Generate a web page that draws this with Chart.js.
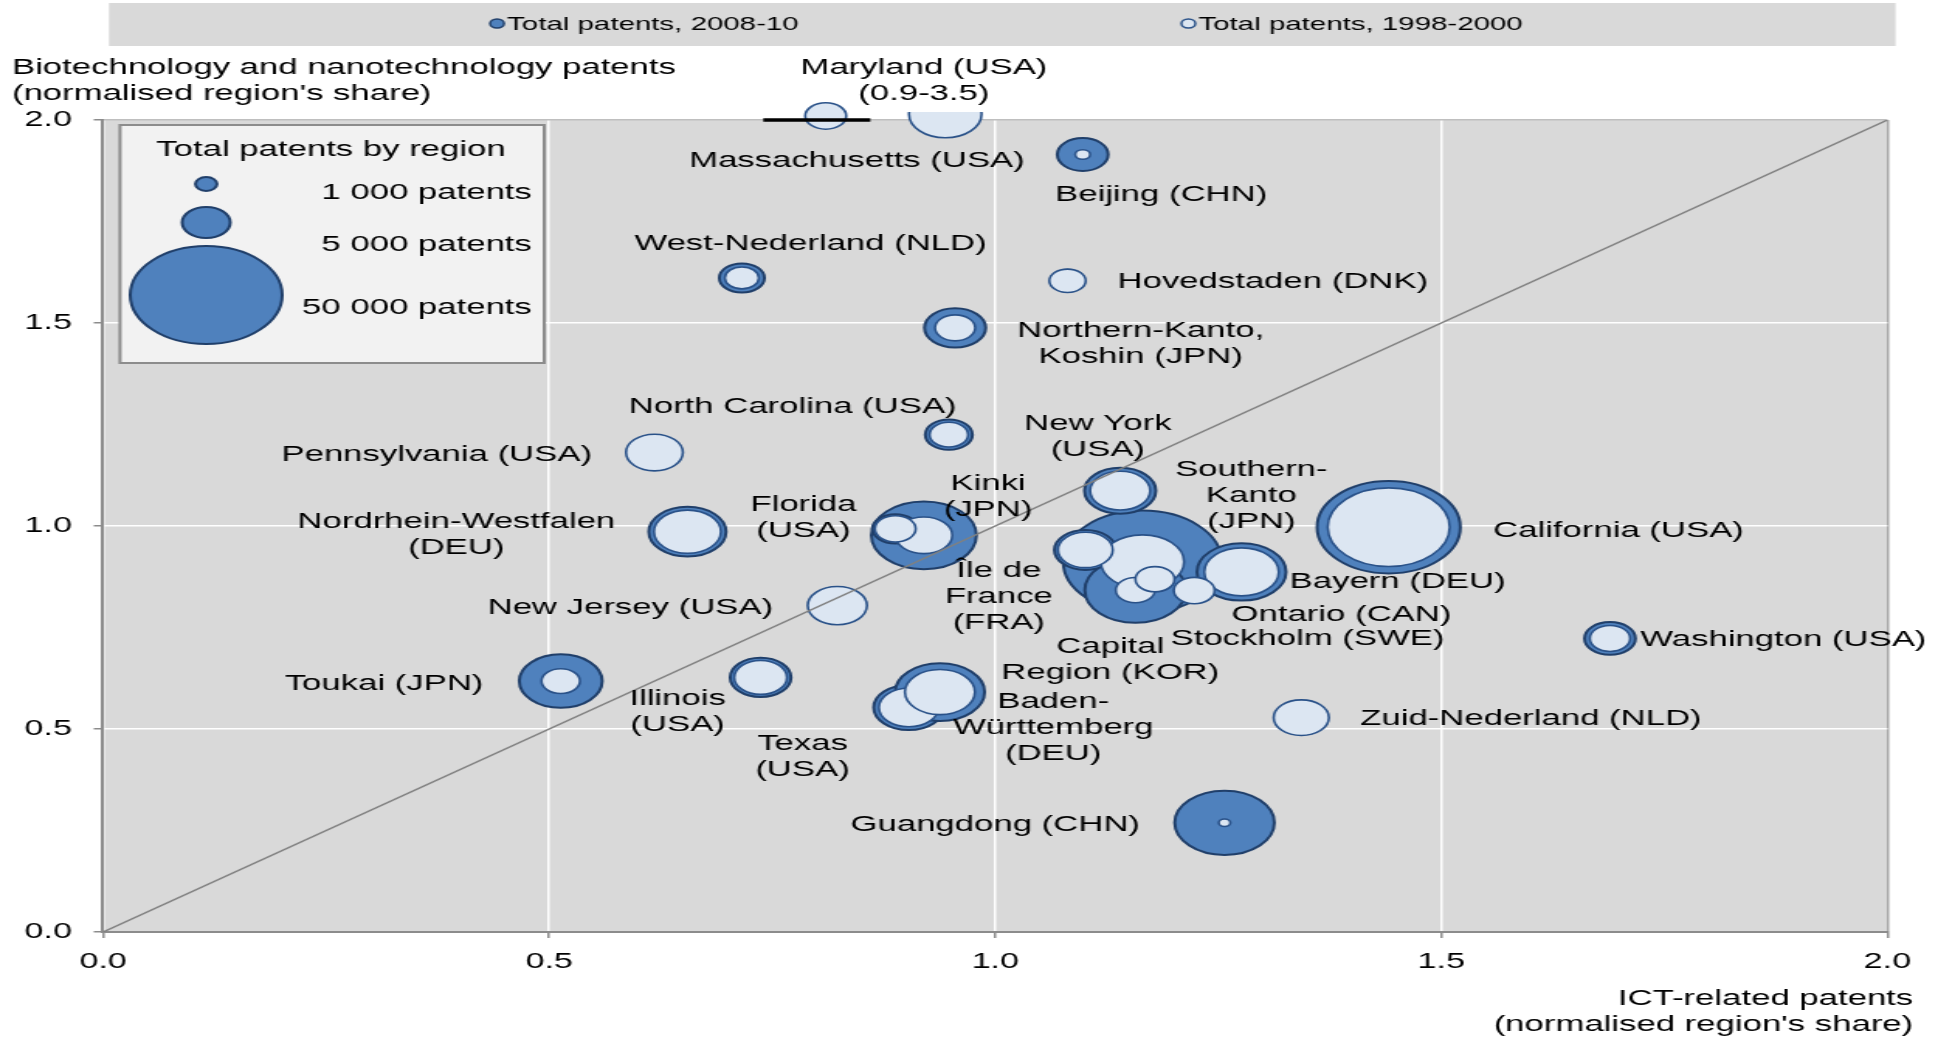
<!DOCTYPE html>
<html>
<head>
<meta charset="utf-8">
<title>Biotechnology and nanotechnology vs ICT patents</title>
<script src="https://cdn.jsdelivr.net/npm/chart.js@4.4.1/dist/chart.umd.min.js"></script>
<style>
  html, body { margin: 0; padding: 0; background: #fff; overflow: hidden; }
  /* the original figure is a stretched picture: draw narrow, then widen it */
  #wrap { width: 1250px; height: 1037px; transform: scaleX(1.5504); transform-origin: 0 0; }
</style>
</head>
<body>
<div id="wrap"><canvas id="patentChart" width="1250" height="1037"></canvas></div>
<script>
// regions, in drawing order
const regions = [
  'Southern-Kanto (JPN)', 'California (USA)', 'Kinki (JPN)', 'Capital Region (KOR)', 'Guangdong (CHN)',
  'Île de France (FRA)', 'Ontario (CAN)', 'Bayern (DEU)', 'Stockholm (SWE)', 'Texas (USA)',
  'Baden-Württemberg (DEU)', 'Florida (USA)', 'Nordrhein-Westfalen (DEU)', 'Toukai (JPN)', 'Illinois (USA)',
  'New Jersey (USA)', 'New York (USA)', 'Pennsylvania (USA)', 'North Carolina (USA)', 'Northern-Kanto, Koshin (JPN)',
  'West-Nederland (NLD)', 'Hovedstaden (DNK)', 'Beijing (CHN)', 'Washington (USA)', 'Zuid-Nederland (NLD)',
  'Massachusetts (USA)', 'Maryland (USA)'
];
// ICT-related patents, normalised region's share
const ictShare = [1.165, 1.441, 0.920, 1.157, 1.257, 1.101, 1.179, 1.276, 1.223, 0.903,
                  0.938, 0.888, 0.655, 0.513, 0.737, 0.823, 1.140, 0.618, 0.948, 0.955,
                  0.716, 1.081, 1.098, 1.689, 1.343, 0.944, 0.810];
// Biotechnology and nanotechnology patents, normalised region's share
const bioShare = [0.912, 0.997, 0.977, 0.842, 0.269, 0.941, 0.869, 0.887, 0.841, 0.553,
                  0.591, 0.993, 0.986, 0.618, 0.627, 0.804, 1.087, 1.181, 1.225, 1.488,
                  1.611, 1.604, 1.915, 0.723, 0.528, 2.014, 2.010];
// total patents 2008-10 and 1998-2000
const patents2008 = [54400, 44400, 23900, 22100, 21500, 8300, 3000, 17150, 3200, 10600,
                     17300, 4500, 12900, 14900, 8000, 6500, 11000, 6200, 4800, 8100,
                     4400, 2500, 5600, 5600, 5800, null, null];
const patents1998 = [15000, 32200, 7000, 3300, 290, 6500, 3300, 12000, 3600, 7700,
                     10600, 3600, 9700, 3200, 6000, 7600, 7800, 7000, 3200, 3500,
                     2500, 2850, 480, 3500, 6600, 11400, 3650];
const offScaleRegion = 'Maryland (USA)';   // real point (0.9, 3.5), shown at the top edge
const breakMark = [0.74, 0.86];            // broken-axis bar under Maryland
const sizeLegend = [1000, 5000, 50000];
const axisTicks = [0, 0.5, 1, 1.5, 2];

// label placement (data units): first line centre, alignment
const labelLines = {
  'Southern-Kanto (JPN)': [['Southern-', 'Kanto', '(JPN)'], 1.287, 1.145, 'center'],
  'California (USA)': [['California (USA)'], 1.558, 0.995, 'left'],
  'Kinki (JPN)': [['Kinki', '(JPN)'], 0.992, 1.111, 'center'],
  'Capital Region (KOR)': [['Capital', 'Region (KOR)'], 1.129, 0.709, 'center'],
  'Guangdong (CHN)': [['Guangdong (CHN)'], 1.000, 0.271, 'center'],
  'Île de France (FRA)': [['Île de', 'France', '(FRA)'], 1.004, 0.895, 'center'],
  'Ontario (CAN)': [['Ontario (CAN)'], 1.388, 0.788, 'center'],
  'Bayern (DEU)': [['Bayern (DEU)'], 1.330, 0.868, 'left'],
  'Stockholm (SWE)': [['Stockholm (SWE)'], 1.350, 0.728, 'center'],
  'Texas (USA)': [['Texas', '(USA)'], 0.784, 0.469, 'center'],
  'Baden-Württemberg (DEU)': [['Baden-', 'Württemberg', '(DEU)'], 1.065, 0.572, 'center'],
  'Florida (USA)': [['Florida', '(USA)'], 0.785, 1.059, 'center'],
  'Nordrhein-Westfalen (DEU)': [['Nordrhein-Westfalen', '(DEU)'], 0.396, 1.017, 'center'],
  'Toukai (JPN)': [['Toukai (JPN)'], 0.315, 0.618, 'center'],
  'Illinois (USA)': [['Illinois', '(USA)'], 0.644, 0.581, 'center'],
  'New Jersey (USA)': [['New Jersey (USA)'], 0.591, 0.804, 'center'],
  'New York (USA)': [['New York', '(USA)'], 1.115, 1.257, 'center'],
  'Pennsylvania (USA)': [['Pennsylvania (USA)'], 0.374, 1.181, 'center'],
  'North Carolina (USA)': [['North Carolina (USA)'], 0.773, 1.300, 'center'],
  'Northern-Kanto, Koshin (JPN)': [['Northern-Kanto,', 'Koshin (JPN)'], 1.163, 1.486, 'center'],
  'West-Nederland (NLD)': [['West-Nederland (NLD)'], 0.793, 1.702, 'center'],
  'Hovedstaden (DNK)': [['Hovedstaden (DNK)'], 1.137, 1.607, 'left'],
  'Beijing (CHN)': [['Beijing (CHN)'], 1.186, 1.823, 'center'],
  'Washington (USA)': [['Washington (USA)'], 1.723, 0.725, 'left'],
  'Zuid-Nederland (NLD)': [['Zuid-Nederland (NLD)'], 1.409, 0.530, 'left'],
  'Massachusetts (USA)': [['Massachusetts (USA)'], 0.845, 1.906, 'center'],
  'Maryland (USA)': [['Maryland (USA)', '(0.9-3.5)'], 0.920, 2.134, 'center']
};

const FONT = '"Liberation Sans", Arial, sans-serif';
const DARK = '#4f81bd', DARK_LINE = '#203f6a';
const LIGHT = '#dce6f2', LIGHT_LINE = '#2a5289';

function bubbleR(p) { return 49 * Math.sqrt(p / 50000); } // bubble area ~ patents

function points(sizes, keep) {
  return regions.map((name, i) => ({ name, i }))
    .filter(d => sizes[d.i] != null && keep(d.name))
    .map(d => ({ x: ictShare[d.i], y: bioShare[d.i], r: bubbleR(sizes[d.i]), name: d.name }));
}

const decor = {
  id: 'decor',
  beforeDraw(chart) {
    const { ctx, chartArea: a } = chart;
    ctx.save();
    ctx.fillStyle = '#fff';
    ctx.fillRect(0, 0, chart.width, chart.height);
    ctx.fillStyle = '#d9d9d9';
    ctx.fillRect(a.left, a.top, a.right - a.left, a.bottom - a.top);
    // series legend band on top
    ctx.fillRect(70.3, 3, 1152.3, 43);
    const items = [['Total patents, 2008-10', DARK, DARK_LINE, 320.6], ['Total patents, 1998-2000', LIGHT, LIGHT_LINE, 766.5]];
    ctx.font = '19px ' + FONT;
    ctx.textBaseline = 'middle';
    items.forEach(([txt, fill, line, x]) => {
      ctx.beginPath();
      ctx.arc(x, 23.5, 4.5, 0, Math.PI * 2);
      ctx.fillStyle = fill; ctx.fill();
      ctx.lineWidth = 1.5; ctx.strokeStyle = line; ctx.stroke();
      ctx.fillStyle = '#000';
      ctx.textAlign = 'left';
      ctx.fillText(txt, x + 6.5, 24.5);
    });
    // axis titles
    ctx.font = '22.4px ' + FONT;
    ctx.textAlign = 'left';
    ctx.fillText('Biotechnology and nanotechnology patents', 7.7, 67.5);
    ctx.fillText("(normalised region's share)", 7.7, 93.5);
    ctx.textAlign = 'right';
    ctx.fillText('ICT-related patents', 1234, 998.5);
    ctx.fillText("(normalised region's share)", 1234, 1025);
    ctx.restore();
  },
  afterDatasetsDraw(chart) {
    const { ctx } = chart;
    const xs = chart.scales.x, ys = chart.scales.y;
    ctx.save();
    ctx.font = '22.4px ' + FONT;
    ctx.fillStyle = '#000';
    ctx.textBaseline = 'middle';
    regions.forEach(name => {
      const [lines, lx, ly, align] = labelLines[name];
      const px = xs.getPixelForValue(lx), py = ys.getPixelForValue(ly) + 2.5;
      ctx.textAlign = align;
      lines.forEach((t, k) => ctx.fillText(t, px, py + k * 26));
    });
    ctx.restore();
  },
  afterDraw(chart) {
    const { ctx } = chart;
    ctx.save();
    // bubble size legend
    ctx.fillStyle = '#f2f2f2';
    ctx.fillRect(77.4, 125, 273.6, 238);
    ctx.lineWidth = 2;
    ctx.strokeStyle = '#8c8c8c';
    ctx.strokeRect(77.4, 125, 273.6, 238);
    ctx.fillStyle = '#000';
    ctx.font = '22.4px ' + FONT;
    ctx.textBaseline = 'middle';
    ctx.textAlign = 'center';
    ctx.fillText('Total patents by region', 213.5, 150);
    const rowY = [184, 222.5, 295], textY = [192.5, 244.5, 307.5];
    sizeLegend.forEach((p, k) => {
      ctx.beginPath();
      ctx.arc(133, rowY[k], bubbleR(p), 0, Math.PI * 2);
      ctx.fillStyle = DARK; ctx.fill();
      ctx.lineWidth = 2; ctx.strokeStyle = DARK_LINE; ctx.stroke();
      ctx.fillStyle = '#000';
      ctx.textAlign = 'right';
      ctx.fillText(p.toLocaleString('en-US').replace(',', ' ') + ' patents', 343, textY[k]);
    });
    ctx.restore();
  }
};

const tickFont = { family: FONT, size: 22 };
const edgeGrid = top => c => (c.tick && c.tick.value === 2 ? top : '#ffffff');
// keep the plot frame fixed: no extra room for the end tick labels
const noLabelPad = s => { s.paddingLeft = 0; s.paddingRight = 0; s.paddingTop = 0; s.paddingBottom = 0; };

new Chart(document.getElementById('patentChart').getContext('2d'), {
  type: 'bubble',
  data: {
    datasets: [
      {
        type: 'line', label: 'axis break', data: breakMark.map(x => ({ x, y: 2 })),
        borderColor: '#000', borderWidth: 3.5, pointRadius: 0, clip: false
      },
      {
        type: 'line', label: '45° line', data: [{ x: 0, y: 0 }, { x: 2, y: 2 }],
        borderColor: '#808080', borderWidth: 1.5, pointRadius: 0
      },
      {
        label: 'Total patents, 1998-2000 (off scale)', data: points(patents1998, n => n === offScaleRegion),
        backgroundColor: LIGHT, borderColor: LIGHT_LINE, borderWidth: 1.6, clip: false
      },
      {
        label: 'Total patents, 1998-2000', data: points(patents1998, n => n !== offScaleRegion),
        backgroundColor: LIGHT, borderColor: LIGHT_LINE, borderWidth: 1.6,
        clip: { left: 60, top: 8, right: 60, bottom: 60 }
      },
      {
        label: 'Total patents, 2008-10', data: points(patents2008, n => n !== offScaleRegion),
        backgroundColor: DARK, borderColor: DARK_LINE, borderWidth: 2
      }
    ]
  },
  options: {
    responsive: false,
    animation: false,
    events: [],
    layout: { autoPadding: false, padding: { top: 120, right: 32.6, bottom: 0, left: 0 } },
    plugins: { legend: { display: false }, tooltip: { enabled: false } },
    scales: {
      x: {
        type: 'linear', min: 0, max: 2,
        afterFit: s => { s.height = 105; noLabelPad(s); },
        afterBuildTicks: s => { s.ticks = axisTicks.map(value => ({ value })); },
        ticks: { font: tickFont, color: '#000', padding: 11, maxRotation: 0, autoSkip: false, callback: v => v.toFixed(1) },
        grid: { color: edgeGrid('#a6a6a6'), lineWidth: 1.5, tickColor: '#8c8c8c', tickLength: 6 },
        border: { color: '#8c8c8c', width: 2 }
      },
      y: {
        type: 'linear', min: 0, max: 2,
        afterFit: s => { s.width = 66.45; noLabelPad(s); },
        afterBuildTicks: s => { s.ticks = axisTicks.map(value => ({ value })); },
        ticks: { font: tickFont, color: '#000', padding: 14, autoSkip: false, callback: v => v.toFixed(1) },
        grid: { color: edgeGrid('#bfbfbf'), lineWidth: 1.5, tickColor: '#8c8c8c', tickLength: 6 },
        border: { color: '#8c8c8c', width: 2 }
      }
    }
  },
  plugins: [decor]
});
</script>
</body>
</html>
